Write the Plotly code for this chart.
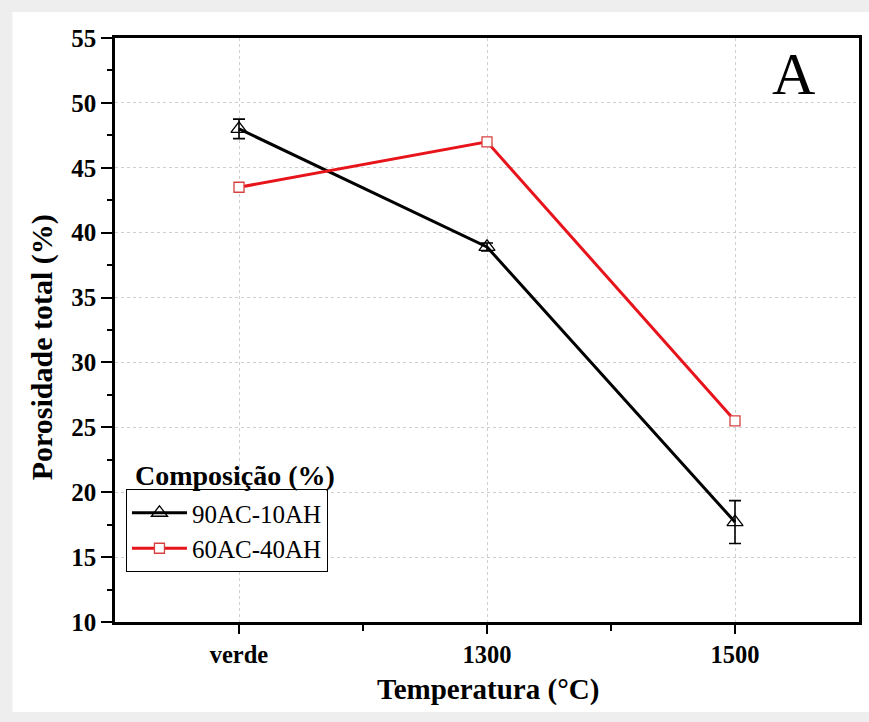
import plotly.graph_objects as go

categories = ["verde", "1300", "1500"]
x_pos = [0, 1, 2]
s1_name = "90AC-10AH"
s1_vals = [48.0, 38.9, 17.7]
s1_err = [0.75, 0.3, 1.65]
s2_name = "60AC-40AH"
s2_vals = [43.5, 47.0, 25.5]
s2_err = [0.25, 0.2, 0.2]
y_ticks = [10, 15, 20, 25, 30, 35, 40, 45, 50, 55]

W, H = 869, 722
L, R, T, B = 115, 7, 38, 100
pw, ph = W - L - R, H - T - B

def px(x):
    return (x - L) / pw

def py(y):
    return (H - B - y) / ph

SERIF = "Liberation Serif"

fig = go.Figure()
fig.add_trace(go.Scatter(
    x=x_pos, y=s1_vals, name=s1_name, mode="lines+markers",
    line=dict(color="black", width=3),
    marker=dict(symbol="triangle-up-open", size=14, color="black", line=dict(width=1.3)),
    error_y=dict(type="data", array=s1_err, color="black", thickness=1.6, width=6),
))
fig.add_trace(go.Scatter(
    x=x_pos, y=s2_vals, name=s2_name, mode="lines+markers",
    line=dict(color="#e8141c", width=3),
    marker=dict(symbol="square", size=10, color="white", line=dict(color="#d84040", width=1.3)),
    error_y=dict(type="data", array=s2_err, color="#d84040", thickness=1, width=5),
))

fig.update_xaxes(
    range=[-0.5, 2.5], tickvals=x_pos, ticktext=categories,
    showline=True, linecolor="black", linewidth=2.5, mirror=True,
    ticks="outside", ticklen=9, tickwidth=2, tickcolor="black",
    minor=dict(tickvals=[0.5, 1.5], ticks="outside", ticklen=6, tickwidth=2, tickcolor="black", showgrid=False),
    showgrid=True, gridcolor="#cfcfcf", griddash="dot", gridwidth=1,
    tickfont=dict(family=SERIF, size=24.5, color="black", weight="bold"),
    zeroline=False,
)
fig.update_yaxes(
    range=[10, 55], tickvals=y_ticks,
    showline=True, linecolor="black", linewidth=2.5, mirror=True,
    ticks="outside", ticklen=11, tickwidth=2, tickcolor="black",
    minor=dict(dtick=2.5, tick0=10, ticks="outside", ticklen=5, tickwidth=2, tickcolor="black", showgrid=False),
    showgrid=True, gridcolor="#cfcfcf", griddash="dot", gridwidth=1,
    tickfont=dict(family=SERIF, size=25, color="black", weight="bold"),
    zeroline=False,
)

fig.add_shape(type="rect", xref="paper", yref="paper",
              x0=px(12), x1=px(875), y0=py(712), y1=py(12),
              fillcolor="white", line=dict(width=0), layer="below")

fig.add_annotation(text="Porosidade total (%)", xref="paper", yref="paper",
                   x=px(42), y=py(347), xanchor="center", yanchor="middle",
                   textangle=-90, showarrow=False,
                   font=dict(family=SERIF, size=30, color="black", weight="bold"))
fig.add_annotation(text="Temperatura (°C)", xref="paper", yref="paper",
                   x=px(490), y=py(689), xanchor="center", yanchor="middle", showarrow=False,
                   font=dict(family=SERIF, size=29, color="black", weight="bold"))
fig.add_annotation(text="A", xref="paper", yref="paper",
                   x=px(796), y=py(74), xanchor="center", yanchor="middle", showarrow=False,
                   font=dict(family=SERIF, size=60, color="black"))
fig.add_annotation(text="Composição (%)", xref="paper", yref="paper",
                   x=px(133), y=py(475), xanchor="left", yanchor="middle", showarrow=False,
                   font=dict(family=SERIF, size=28, color="black", weight="bold"))

fig.update_layout(
    width=W, height=H,
    margin=dict(l=L, r=R, t=T, b=B),
    paper_bgcolor="#eeeeee", plot_bgcolor="white",
    showlegend=True,
    font=dict(family=SERIF),
    legend=dict(x=px(126), y=py(489), xanchor="left", yanchor="top",
                bgcolor="white", bordercolor="black", borderwidth=1,
                font=dict(family=SERIF, size=25, color="black"),
                itemwidth=55, tracegroupgap=0),
)

fig.write_html("out.html")
